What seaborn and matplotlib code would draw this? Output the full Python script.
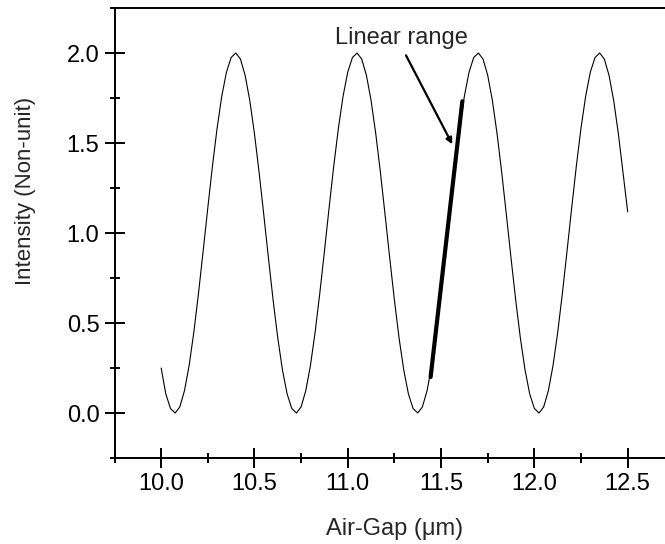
import numpy as np
import pandas as pd
import matplotlib
matplotlib.use("Agg")
import matplotlib.pyplot as plt
import seaborn as sns
from matplotlib.ticker import MultipleLocator

# ---- data ----
air_gap = [10.000, 10.025, 10.050, 10.075, 10.100, 10.125, 10.150, 10.175, 10.200, 10.225,
           10.250, 10.275, 10.300, 10.325, 10.350, 10.375, 10.400, 10.425, 10.450, 10.475,
           10.500, 10.525, 10.550, 10.575, 10.600, 10.625, 10.650, 10.675, 10.700, 10.725,
           10.750, 10.775, 10.800, 10.825, 10.850, 10.875, 10.900, 10.925, 10.950, 10.975,
           11.000, 11.025, 11.050, 11.075, 11.100, 11.125, 11.150, 11.175, 11.200, 11.225,
           11.250, 11.275, 11.300, 11.325, 11.350, 11.375, 11.400, 11.425, 11.450, 11.475,
           11.500, 11.525, 11.550, 11.575, 11.600, 11.625, 11.650, 11.675, 11.700, 11.725,
           11.750, 11.775, 11.800, 11.825, 11.850, 11.875, 11.900, 11.925, 11.950, 11.975,
           12.000, 12.025, 12.050, 12.075, 12.100, 12.125, 12.150, 12.175, 12.200, 12.225,
           12.250, 12.275, 12.300, 12.325, 12.350, 12.375, 12.400, 12.425, 12.450, 12.475,
           12.500]
intensity = [0.250, 0.106, 0.025, 0.000, 0.034, 0.124, 0.264, 0.448, 0.664, 0.899,
             1.140, 1.373, 1.584, 1.761, 1.894, 1.975, 2.000, 1.966, 1.876, 1.736,
             1.552, 1.336, 1.101, 0.860, 0.627, 0.416, 0.239, 0.106, 0.025, 0.000,
             0.034, 0.124, 0.264, 0.448, 0.664, 0.899, 1.140, 1.373, 1.584, 1.761,
             1.894, 1.975, 2.000, 1.966, 1.876, 1.736, 1.552, 1.336, 1.101, 0.860,
             0.627, 0.416, 0.239, 0.106, 0.025, 0.000, 0.034, 0.124, 0.264, 0.448,
             0.664, 0.899, 1.140, 1.373, 1.584, 1.761, 1.894, 1.975, 2.000, 1.966,
             1.876, 1.736, 1.552, 1.336, 1.101, 0.860, 0.627, 0.416, 0.239, 0.106,
             0.025, 0.000, 0.034, 0.124, 0.264, 0.448, 0.664, 0.899, 1.140, 1.373,
             1.584, 1.761, 1.894, 1.975, 2.000, 1.966, 1.876, 1.736, 1.552, 1.336,
             1.118]

linear_x = [11.444, 11.614]
linear_y = [0.200, 1.732]

annot_text = "Linear range"
annot_text_xy = (11.288, 2.048)
annot_arrow_start = (11.312, 1.987)
annot_arrow_end = (11.560, 1.493)

x_ticks = [10.0, 10.5, 11.0, 11.5, 12.0, 12.5]
y_ticks = [0.0, 0.5, 1.0, 1.5, 2.0]

# ---- plot ----
sns.set_style("ticks")
plt.rcParams["font.family"] = ["Liberation Sans", "DejaVu Sans"]

fig = plt.figure(figsize=(6.65, 5.44), dpi=100)
ax = fig.add_axes([114.5 / 665, 1 - 458 / 544, 1 - 114.5 / 665, 450 / 544])

df = pd.DataFrame({"x": air_gap, "y": intensity})
sns.lineplot(data=df, x="x", y="y", ax=ax, color="black", linewidth=0.8, sort=False)
sns.lineplot(x=linear_x, y=linear_y, ax=ax, color="black", linewidth=3.0, sort=False)

ax.annotate("", xy=annot_arrow_end, xytext=annot_arrow_start,
            arrowprops=dict(arrowstyle="-|>", color="black", lw=1.6,
                            mutation_scale=9, shrinkA=0, shrinkB=0))
ax.text(annot_text_xy[0], annot_text_xy[1], annot_text, ha="center", va="baseline",
        fontsize=17)

ax.set_xlim(9.75, 12.70)
ax.set_ylim(-0.25, 2.25)
ax.set_xticks(x_ticks)
ax.set_xticklabels([f"{v:.1f}" for v in x_ticks])
ax.set_yticks(y_ticks)
ax.set_yticklabels([f"{v:.1f}" for v in y_ticks])
ax.xaxis.set_minor_locator(MultipleLocator(0.25))
ax.yaxis.set_minor_locator(MultipleLocator(0.25))

ax.tick_params(which="major", direction="inout", length=13.7, width=1.4,
               labelsize=17, color="black", labelcolor="black", pad=4)
ax.tick_params(which="minor", direction="inout", length=7.5, width=1.4, color="black")

for s in ["left", "bottom", "top"]:
    ax.spines[s].set_linewidth(1.4)
    ax.spines[s].set_color("black")
ax.spines["right"].set_visible(False)

ax.set_xlabel("Air-Gap (\u03bcm)", fontsize=17)
ax.set_ylabel("Intensity (Non-unit)", fontsize=16)
ax.xaxis.set_label_coords(0.509, -0.158)
ax.xaxis.label.set_va("center")
ax.yaxis.set_label_coords(-0.1625, 0.594)
ax.yaxis.label.set_va("center")

fig.savefig("out.png", dpi=100)
